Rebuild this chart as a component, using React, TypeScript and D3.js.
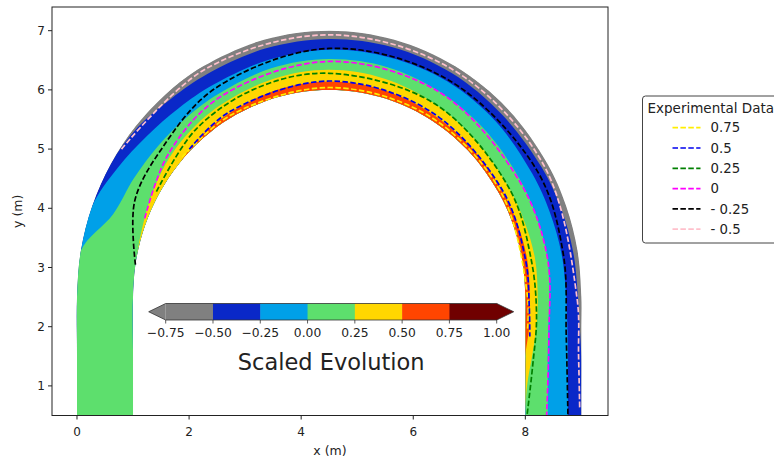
import React from 'react';
import * as d3 from 'd3';

const W = 774;
const H = 462;

// stations along the arch: <0 left leg, 0..180 arc angle measured from the left, >180 right leg
const stations = [-60, -30, 0, 10, 20, 30, 40, 50, 60, 75, 90, 105, 120, 135, 150, 160, 170, 180, 195, 210, 225, 240];
// contour edges, as a fraction of wall thickness (0 = inner wall, 1 = outer wall)
const edgeRedYellow = [-0.1, -0.1, -0.1, -0.1, -0.1, -0.06, -0.02, 0.05, 0.08, 0.12, 0.14, 0.13, 0.1, 0.08, 0.07, 0.08, 0.09, 0.08, 0.07, 0.0, -0.1, -0.1];
const edgeYellowGreen = [-0.1, -0.1, -0.1, -0.05, 0.04, 0.12, 0.2, 0.25, 0.28, 0.32, 0.34, 0.32, 0.27, 0.22, 0.2, 0.21, 0.23, 0.22, 0.2, 0.12, 0.03, -0.05];
const edgeGreenCyan = [1.1, 1.1, 1.1, 1.03, 0.6, 0.52, 0.48, 0.46, 0.46, 0.5, 0.52, 0.52, 0.49, 0.46, 0.44, 0.44, 0.45, 0.43, 0.41, 0.4, 0.4, 0.4];
const edgeCyanBlue = [1.2, 1.2, 1.2, 1.15, 1.05, 0.86, 0.74, 0.67, 0.64, 0.65, 0.68, 0.69, 0.71, 0.7, 0.68, 0.69, 0.71, 0.73, 0.75, 0.76, 0.76, 0.76];
const edgeBlueGray = [1.3, 1.3, 1.3, 1.25, 1.15, 1.05, 0.96, 0.88, 0.85, 0.85, 0.86, 0.87, 0.87, 0.86, 0.88, 0.9, 0.92, 0.94, 0.97, 1.05, 1.05, 1.05];

const levels = [-0.75, -0.5, -0.25, 0, 0.25, 0.5, 0.75, 1.0];
const levelColors = ['#808080', '#0a28c8', '#00a0e8', '#5ddf6d', '#ffd700', '#ff4500', '#700000'];

const xTicks = [0, 2, 4, 6, 8];
const yTicks = [1, 2, 3, 4, 5, 6, 7];

// experimental contour lines (station, wall fraction)
const exp075U = [42, 60, 90, 120, 150, 180, 196];
const exp075T = [0.03, 0.04, 0.04, 0.04, 0.04, 0.04, 0.04];
const exp050U = [45, 60, 90, 120, 150, 170, 185, 200];
const exp050T = [0.03, 0.1, 0.15, 0.12, 0.08, 0.06, 0.07, 0.08];
const exp025U = [30, 50, 70, 90, 120, 150, 170, 190, 215, 240];
const exp025T = [0.06, 0.2, 0.26, 0.28, 0.27, 0.2, 0.16, 0.2, 0.13, 0.03];
const exp000U = [22, 40, 60, 90, 120, 150, 170, 200, 240];
const exp000T = [0.05, 0.25, 0.4, 0.48, 0.48, 0.42, 0.45, 0.42, 0.38];
const expM025U = [9, 25, 40, 60, 90, 120, 150, 170, 200, 240];
const expM025T = [0.0, 0.33, 0.4, 0.57, 0.7, 0.74, 0.78, 0.74, 0.73, 0.76];
const expM050U = [34, 60, 90, 120, 150, 180, 210, 236];
const expM050T = [0.97, 0.94, 0.93, 0.93, 0.93, 0.92, 0.95, 0.97];

const expLabels = ['0.75', '0.5', '0.25', '0', '- 0.25', '- 0.5'];
const expColors = ['#ffee00', '#0000ee', 'green', 'magenta', 'black', 'pink'];

const expLines = [
  [exp075U, exp075T], [exp050U, exp050T], [exp025U, exp025T],
  [exp000U, exp000T], [expM025U, expM025T], [expM050U, expM050T],
];

const cx = 4.5, cy = 2.5, rIn = 3.5, wall = 1, perMeter = 30;

function archPoint(u: number, t: number): [number, number] {
  const r = rIn + wall * t;
  if (u < 0) return [cx - r, cy + u / perMeter];
  if (u > 180) return [cx + r, cy - (u - 180) / perMeter];
  const a = Math.PI - (u * Math.PI) / 180;
  return [cx + r * Math.cos(a), cy + r * Math.sin(a)];
}

const FONT = 'DejaVu Sans, sans-serif';

export default function App() {
  const left = 52, right = 608, top = 7, bottom = 415.5;
  const x = d3.scaleLinear().domain([-0.446, 9.475]).range([left, right]);
  const y = d3.scaleLinear().domain([0.5, 7.4]).range([bottom, top]);

  const clamp = (v: number) => Math.max(0, Math.min(1, v));
  const px = (u: number, t: number): [number, number] => {
    const [a, b] = archPoint(u, t);
    return [x(a), y(b)];
  };
  const line = d3.line().curve(d3.curveCatmullRom.alpha(0.5));

  const innerBack = line(stations.map(u => px(u, 0)).reverse()) as string;
  const bandPath = (edge: number[]) =>
    (line(stations.map((u, i) => px(u, clamp(edge[i])))) as string) + innerBack.replace(/^M/, 'L') + 'Z';

  const fullShape = bandPath(stations.map(() => 1));
  const layers = [
    { d: fullShape, c: levelColors[0] },
    { d: bandPath(edgeBlueGray), c: levelColors[1] },
    { d: bandPath(edgeCyanBlue), c: levelColors[2] },
    { d: bandPath(edgeGreenCyan), c: levelColors[3] },
    { d: bandPath(edgeYellowGreen), c: levelColors[4] },
    { d: bandPath(edgeRedYellow), c: levelColors[5] },
  ];

  // colorbar
  const cb = d3.scaleLinear().domain([-0.75, 1]).range([165.7, 496.7]);
  const cbTop = 303.5, cbH = 16.5, tri = 17;
  const cbMid = cbTop + cbH / 2;
  const fmt = d3.format('.2f');

  const legX = 642.5, legY = 96;

  return (
    <svg width={W} height={H} style={{ position: 'absolute', left: 0, top: 0, background: '#fff' }} fontFamily={FONT}>
      <defs>
        <clipPath id="arch">
          <path d={fullShape} />
        </clipPath>
        <clipPath id="axes">
          <rect x={left} y={top} width={right - left} height={bottom - top} />
        </clipPath>
      </defs>

      <g clipPath="url(#axes)">
        <g clipPath="url(#arch)">
          {layers.map((l, i) => (
            <path key={i} d={l.d} fill={l.c} stroke={i === 0 ? l.c : 'none'} strokeWidth={0.6} />
          ))}
        </g>
        {expLines.map(([us, ts], i) => (
          <path
            key={i}
            d={line(us.map((u, j) => px(u, ts[j]))) as string}
            fill="none"
            stroke={expColors[i]}
            strokeWidth={1.7}
            strokeDasharray="5.5,2.4"
          />
        ))}
      </g>

      {/* colorbar */}
      <g>
        {levelColors.map((c, i) => (
          <rect key={i} x={cb(levels[i])} y={cbTop} width={cb(levels[i + 1]) - cb(levels[i]) + 0.5} height={cbH} fill={c} />
        ))}
        <path d={`M${cb(-0.75)},${cbTop}L${cb(-0.75) - tri},${cbMid}L${cb(-0.75)},${cbTop + cbH}Z`} fill={levelColors[0]} />
        <path d={`M${cb(1)},${cbTop}L${cb(1) + tri},${cbMid}L${cb(1)},${cbTop + cbH}Z`} fill={levelColors[6]} />
        <path
          d={`M${cb(-0.75) - tri},${cbMid}L${cb(-0.75)},${cbTop}L${cb(1)},${cbTop}L${cb(1) + tri},${cbMid}L${cb(1)},${cbTop + cbH}L${cb(-0.75)},${cbTop + cbH}Z`}
          fill="none"
          stroke="#333"
          strokeWidth={0.8}
        />
        {levels.map(v => (
          <g key={v} transform={`translate(${cb(v)},${cbTop + cbH})`}>
            <line y2={3.5} stroke="#333" strokeWidth={0.8} />
            <text y={16.5} textAnchor="middle" fontSize={12.3} fill="#222">{fmt(v)}</text>
          </g>
        ))}
        <text x={(cb(-0.75) + cb(1)) / 2} y={370} textAnchor="middle" fontSize={22.5} fill="#222">Scaled Evolution</text>
      </g>

      {/* axes frame */}
      <rect x={left} y={top} width={right - left} height={bottom - top} fill="none" stroke="#222" strokeWidth={1} />
      {xTicks.map(v => (
        <g key={v} transform={`translate(${x(v)},${bottom})`}>
          <line y2={4} stroke="#222" />
          <text y={20} textAnchor="middle" fontSize={12} fill="#222">{v}</text>
        </g>
      ))}
      {yTicks.map(v => (
        <g key={v} transform={`translate(${left},${y(v)})`}>
          <line x2={-4} stroke="#222" />
          <text x={-7} dy="0.35em" textAnchor="end" fontSize={12} fill="#222">{v}</text>
        </g>
      ))}
      <text x={(left + right) / 2} y={455} textAnchor="middle" fontSize={12.5} fill="#222">x (m)</text>
      <text transform={`translate(22,${(top + bottom) / 2}) rotate(-90)`} textAnchor="middle" fontSize={12.5} fill="#222">y (m)</text>

      {/* legend */}
      <g transform={`translate(${legX},${legY})`}>
        <rect x={0} y={0} width={150} height={147} rx={3} fill="#fff" stroke="#444" strokeWidth={1} />
        <text x={5} y={16.5} fontSize={13.5} fill="#222">Experimental Data</text>
        {expLabels.map((lab, i) => (
          <g key={lab} transform={`translate(0,${31.7 + i * 20.3})`}>
            <line x1={30} x2={58} stroke={expColors[i]} strokeWidth={1.7} strokeDasharray="5.5,2.4" />
            <text x={68} dy="0.35em" fontSize={13.3} fill="#222">{lab}</text>
          </g>
        ))}
      </g>
    </svg>
  );
}
